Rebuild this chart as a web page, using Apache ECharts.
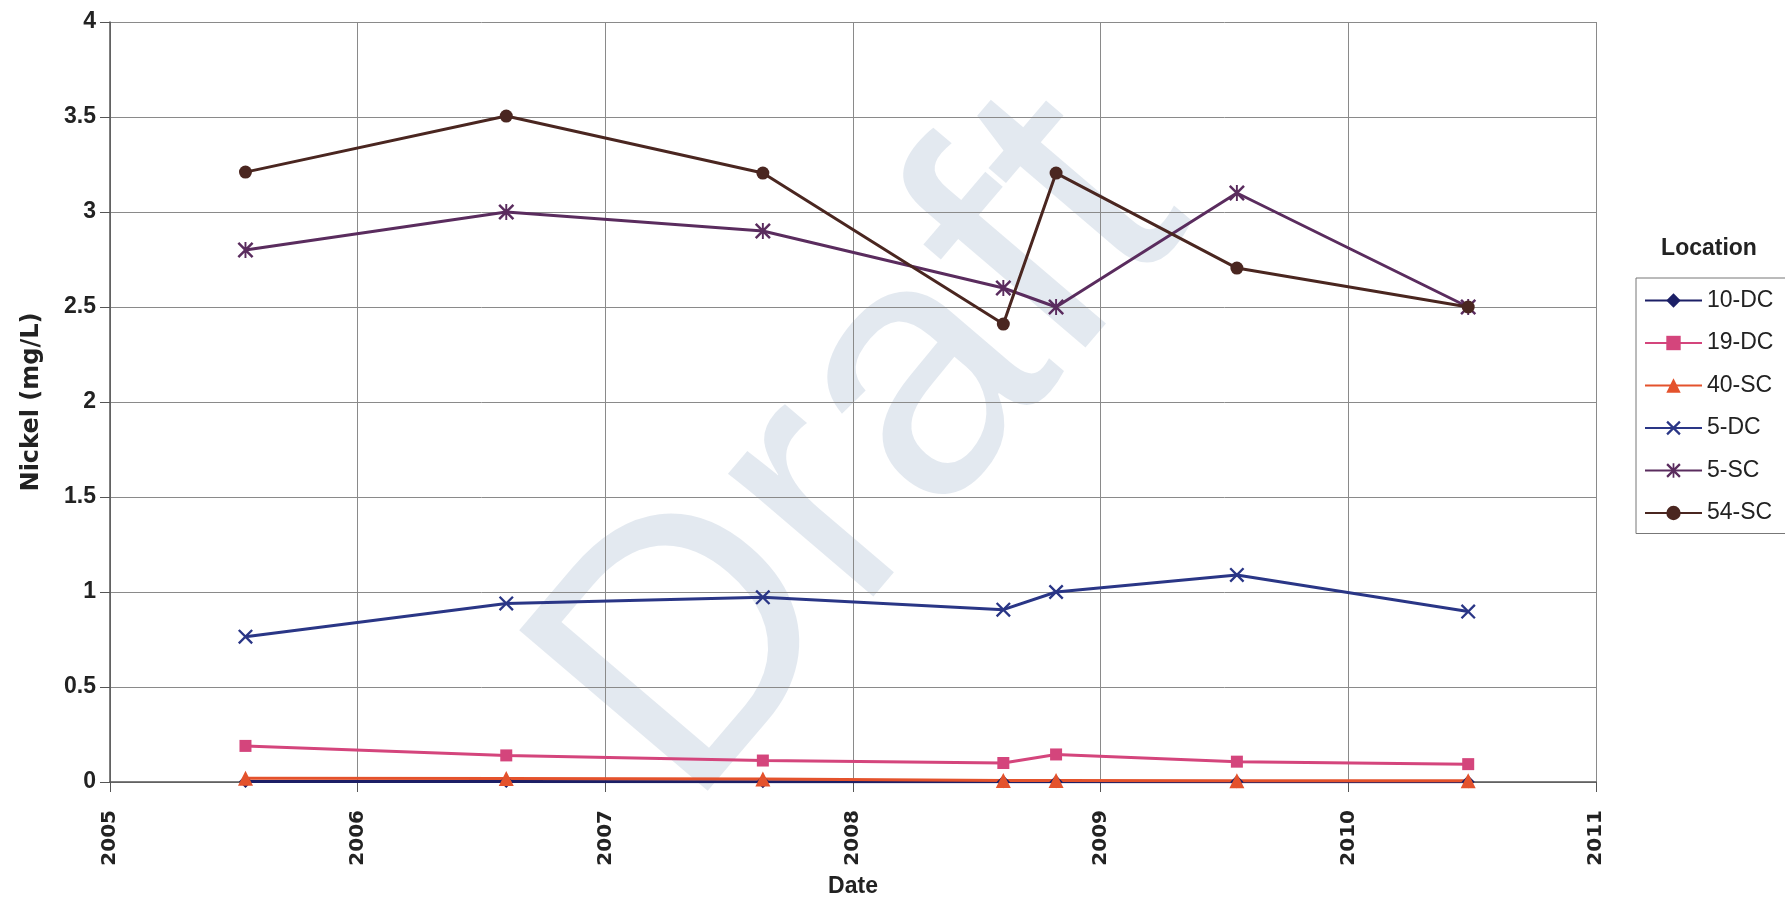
<!DOCTYPE html>
<html>
<head>
<meta charset="utf-8">
<title>Nickel</title>
<script src="https://cdn.jsdelivr.net/npm/echarts@6/dist/echarts.min.js"></script>
<style>
  html, body { margin: 0; padding: 0; background: #fff; }
  #chart { width: 1785px; height: 900px; }
</style>
</head>
<body>
<div id="chart"></div>
<script>
// sampling dates as decimal years
const dates = [2005.547, 2006.6, 2007.636, 2008.607, 2008.82, 2009.55, 2010.484];

const locations = ['10-DC', '19-DC', '40-SC', '5-DC', '5-SC', '54-SC'];

const ni10DC = [0.002, 0.002, 0.001, 0.001, 0.001, 0.001, 0.001];
const ni19DC = [0.19, 0.14, 0.113, 0.1, 0.145, 0.107, 0.094];
const ni40SC = [0.02, 0.019, 0.016, 0.008, 0.008, 0.007, 0.006];
const ni5DC = [0.765, 0.94, 0.972, 0.907, 1.0, 1.09, 0.897];
const ni5SC = [2.8, 3.0, 2.9, 2.6, 2.5, 3.1, 2.5];
const ni54SC = [3.21, 3.505, 3.205, 2.41, 3.205, 2.705, 2.5];

// marker shapes (filled polygons)
const crossStr = 'path://M0,1.1L1.1,0L10,8.9L8.9,10ZM8.9,0L10,1.1L1.1,10L0,8.9Z';
const starStr = 'path://M0,1.1L1.1,0L10,8.9L8.9,10ZM8.9,0L10,1.1L1.1,10L0,8.9ZM4.4,0L5.6,0L5.6,10L4.4,10Z';

const chart = echarts.init(document.getElementById('chart'));

const pairs = vals => dates.map((d, i) => [d, vals[i]]);

function makeSeries(name, vals, color, symbol, size) {
    return {
        name: name,
        type: 'line',
        data: pairs(vals),
        symbol: symbol,
        symbolSize: size,
        showAllSymbol: true,
        lineStyle: { color: color, width: 3 },
        itemStyle: { color: color },
        emphasis: { disabled: true }
    }
}

chart.setOption({
    animation: false,
    backgroundColor: '#fff',
    textStyle: { fontFamily: 'Liberation Sans, Arial, sans-serif' },
    grid: { left: 110, right: 189, top: 22, bottom: 118, outerBoundsMode: 'none', containLabel: false },
    graphic: [{
        type: 'text',
        x: 866,
        y: 452,
        rotation: 0.865,
        z: -10,
        silent: true,
        style: {
            text: 'Draft',
            font: '360px "Liberation Sans", Arial, sans-serif',
            fill: 'rgba(170,188,210,0.33)',
            textAlign: 'center',
            textVerticalAlign: 'middle'
        }
    }, {
        type: 'text',
        x: 1709,
        y: 249,
        style: {
            text: 'Location',
            font: 'bold 23px "Liberation Sans", Arial, sans-serif',
            fill: '#222',
            textAlign: 'center',
            textVerticalAlign: 'middle'
        }
    }],
    legend: {
        orient: 'vertical',
        left: 1636,
        top: 278,
        data: locations,
        itemWidth: 57,
        itemHeight: 18,
        itemGap: 19.5,
        padding: [11, 14, 9, 8],
        borderColor: '#777',
        borderWidth: 1,
        textStyle: { fontSize: 23, color: '#222' }
    },
    xAxis: {
        type: 'value',
        min: 2005,
        max: 2011,
        interval: 1,
        name: 'Date',
        nameLocation: 'middle',
        nameGap: 93,
        nameTextStyle: { fontSize: 23, fontWeight: 'bold', color: '#222' },
        axisLine: { onZero: false, lineStyle: { color: '#555', width: 1.5 } },
        axisTick: { show: true, length: 10, lineStyle: { color: '#555' } },
        axisLabel: {
            rotate: 90,
            margin: 28,
            formatter: v => String(v),
            fontFamily: 'DejaVu Sans',
            fontSize: 20,
            fontWeight: 'bold',
            color: '#222'
        },
        splitLine: { show: true, lineStyle: { color: '#8a8a8a', width: 1 } }
    },
    yAxis: {
        type: 'value',
        min: 0,
        max: 4,
        interval: 0.5,
        name: 'Nickel (mg/L)',
        nameLocation: 'middle',
        nameGap: 66,
        nameTextStyle: { fontFamily: 'DejaVu Sans', fontSize: 24, fontWeight: 'bold', color: '#222' },
        axisLine: { show: true, lineStyle: { color: '#555', width: 1.5 } },
        axisTick: { show: true, length: 10, lineStyle: { color: '#555' } },
        axisLabel: { margin: 14, fontSize: 23, fontWeight: 'bold', color: '#222' },
        splitLine: { show: true, lineStyle: { color: '#8a8a8a', width: 1 } }
    },
    series: [
        makeSeries('10-DC', ni10DC, '#1c1f66', 'diamond', 13),
        makeSeries('19-DC', ni19DC, '#d4457c', 'rect', 12),
        makeSeries('40-SC', ni40SC, '#e4522c', 'triangle', 15),
        makeSeries('5-DC', ni5DC, '#2a3686', crossStr, 15),
        makeSeries('5-SC', ni5SC, '#5a2c5e', starStr, 16),
        makeSeries('54-SC', ni54SC, '#4a2620', 'circle', 13)
    ]
});
</script>
</body>
</html>
